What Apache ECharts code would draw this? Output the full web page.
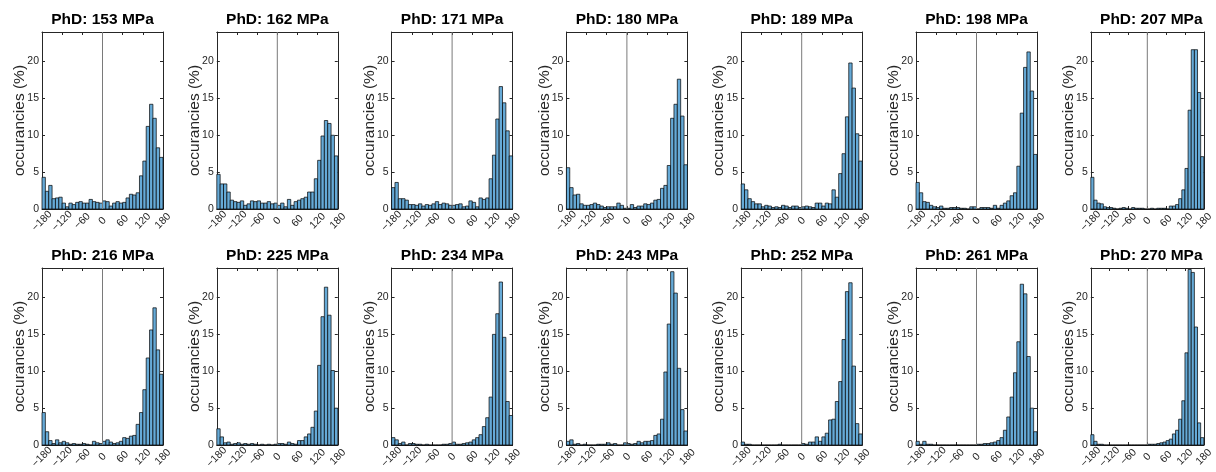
<!DOCTYPE html>
<html><head><meta charset="utf-8">
<script src="https://cdn.jsdelivr.net/npm/echarts@6/dist/echarts.min.js"></script>
<style>html,body{margin:0;padding:0;background:#fff}#c{width:1216px;height:472px}</style>
</head><body><div id="c"></div>
<script>
// ---- data ----
const titles = ['PhD: 153 MPa','PhD: 162 MPa','PhD: 171 MPa','PhD: 180 MPa','PhD: 189 MPa','PhD: 198 MPa','PhD: 207 MPa',
                'PhD: 216 MPa','PhD: 225 MPa','PhD: 234 MPa','PhD: 243 MPa','PhD: 252 MPa','PhD: 261 MPa','PhD: 270 MPa'];
const binEdges = [-180,-170,-160,-150,-140,-130,-120,-110,-100,-90,-80,-70,-60,-50,-40,-30,-20,-10,
                  0,10,20,30,40,50,60,70,80,90,100,110,120,130,140,150,160,170,180];
const xTickLabels = [-180,-120,-60,0,60,120,180];
const yTickLabels = [0,5,10,15,20];
const p153 = [4.3,2.4,3.2,1.4,1.5,1.6,0.8,0.3,0.8,0.6,0.9,1.0,0.8,0.8,1.3,1.0,0.9,0.8, 1.1,1.0,0.4,0.8,1.0,0.8,0.9,1.5,2.0,1.9,2.2,4.5,6.5,11.2,14.2,12.3,8.3,7.0];
const p162 = [4.7,3.4,3.4,2.3,1.2,1.0,0.9,1.1,0.5,0.7,1.1,1.0,1.1,0.8,0.8,1.0,0.7,0.8, 0.5,0.8,0.3,1.3,0.5,1.0,1.2,1.4,1.6,2.3,2.3,4.1,6.6,9.9,12.0,11.6,10.0,7.2];
const p171 = [2.9,3.6,1.4,1.4,1.2,0.6,0.6,0.5,0.7,0.4,0.6,0.5,0.7,1.0,0.6,0.8,0.7,0.5, 0.5,0.6,0.7,0.3,0.4,1.1,0.9,0.3,1.5,1.3,1.5,4.1,7.3,12.2,16.6,14.4,10.6,7.2];
const p180 = [5.6,2.9,1.9,2.0,0.7,0.5,0.5,0.6,0.8,0.6,0.4,0.2,0.3,0.3,0.3,0.8,0.5,0.1, 0.1,0.6,0.2,0.4,0.4,0.7,0.6,0.8,1.2,1.3,2.8,3.2,5.9,12.3,14.2,17.6,12.6,6.0];
const p189 = [3.4,2.6,1.4,1.0,0.7,0.7,0.3,0.5,0.4,0.2,0.3,0.2,0.5,0.4,0.2,0.4,0.4,0.2, 0.3,0.4,0.3,0.2,0.8,0.8,0.4,0.8,0.7,2.6,1.6,4.8,7.5,12.5,19.8,16.4,10.2,6.5];
const p198 = [3.6,2.2,1.0,0.9,0.5,0.3,0.2,0.4,0.1,0.1,0.2,0.2,0.2,0.1,0.1,0.0,0.3,0.3, 0.0,0.2,0.2,0.2,0.1,0.5,0.1,0.5,0.8,1.1,1.8,2.2,5.8,13.0,19.2,21.3,16.0,7.4];
const p207 = [4.3,1.2,0.8,0.7,0.3,0.2,0.2,0.1,0.0,0.1,0.2,0.1,0.0,0.2,0.1,0.1,0.1,0.0, 0.0,0.1,0.0,0.1,0.1,0.1,0.0,0.4,0.4,0.6,1.4,2.6,5.5,13.4,21.6,21.6,15.8,7.1];
const p216 = [4.4,1.8,0.6,0.2,0.7,0.3,0.5,0.3,0.1,0.2,0.1,0.1,0.2,0.1,0.0,0.5,0.3,0.2, 0.5,0.7,0.4,0.2,0.3,0.5,1.0,0.9,1.2,1.3,2.8,4.4,7.5,11.8,15.6,18.6,12.9,9.6];
const p225 = [2.2,1.1,0.3,0.4,0.1,0.2,0.3,0.1,0.2,0.1,0.2,0.1,0.0,0.1,0.0,0.1,0.0,0.1, 0.2,0.2,0.1,0.4,0.2,0.1,0.6,0.6,1.1,1.5,2.4,4.6,10.8,17.4,21.4,17.6,10.1,5.0];
const p234 = [1.0,0.7,0.2,0.4,0.0,0.2,0.2,0.1,0.1,0.0,0.1,0.0,0.0,0.0,0.0,0.1,0.1,0.2, 0.4,0.1,0.1,0.2,0.3,0.4,0.7,1.0,1.4,2.5,3.7,6.5,15.0,17.8,22.1,14.6,5.9,4.0];
const p243 = [0.5,0.7,0.1,0.2,0.0,0.1,0.0,0.0,0.0,0.1,0.1,0.1,0.3,0.1,0.2,0.0,0.0,0.3, 0.2,0.1,0.2,0.5,0.3,0.5,0.5,0.6,1.3,1.5,3.5,9.9,16.4,23.5,20.6,10.4,4.8,1.9];
const p252 = [0.4,0.1,0.1,0.0,0.0,0.0,0.0,0.0,0.0,0.0,0.0,0.1,0.0,0.0,0.0,0.0,0.0,0.0, 0.2,0.1,0.4,0.4,1.1,0.5,1.1,1.6,3.4,3.5,5.9,8.6,14.3,20.8,22.0,10.7,2.9,1.5];
const p261 = [0.5,0.1,0.5,0.1,0.1,0.0,0.0,0.0,0.0,0.0,0.0,0.0,0.0,0.0,0.0,0.0,0.0,0.0, 0.1,0.1,0.2,0.2,0.3,0.4,0.6,1.0,2.0,3.8,6.5,9.8,14.0,21.8,20.5,12.0,5.0,1.8];
const p270 = [1.4,0.5,0.1,0.1,0.0,0.0,0.0,0.0,0.0,0.0,0.0,0.0,0.0,0.0,0.0,0.0,0.0,0.0, 0.1,0.1,0.1,0.2,0.3,0.4,0.6,0.8,1.5,2.0,3.5,6.0,12.5,23.8,23.4,16.0,3.0,1.0];
const panels = [p153,p162,p171,p180,p189,p198,p207,p216,p225,p234,p243,p252,p261,p270];

// ---- layout/style ----
const FONT = '"Liberation Sans", Arial, Helvetica, sans-serif';
const AX = '#262626';
const X0 = 42, DX = 174.8, W = 121, H = 177, TOPS = [32, 268];
const fmtX = v => (v < 0 ? '\u2212' + (-v) : String(v));

const grid = [], xAxis = [], yAxis = [], series = [], graphic = [];
panels.forEach((vals, i) => {
  const col = i % 7, row = Math.floor(i / 7);
  const left = X0 + col * DX, top = TOPS[row];
  grid.push({left: left, top: top, width: W, height: H, containLabel: false});
  graphic.push({type: 'text', x: left + W / 2, y: top - 12, silent: true,
    style: {text: titles[i], textAlign: 'center', textVerticalAlign: 'middle',
      font: 'bold 15.5px ' + FONT, fill: '#000'}});
  const xCommon = {type: 'value', gridIndex: i, min: binEdges[0], max: binEdges[binEdges.length - 1], interval: 60,
    axisLine: {show: true, onZero: false, lineStyle: {color: AX, width: 1}},
    axisTick: {show: true, inside: true, length: 3, lineStyle: {color: AX}},
    splitLine: {show: false}};
  xAxis.push(Object.assign({}, xCommon, {position: 'bottom',
    axisLabel: {show: true, rotate: 45, align: 'center', verticalAlign: 'middle', margin: 12,
      fontFamily: FONT, fontSize: 10.5, color: AX,
      formatter: v => (xTickLabels.indexOf(v) >= 0 ? fmtX(v) : '')}}));
  xAxis.push(Object.assign({}, xCommon, {position: 'top', axisLabel: {show: false}}));
  const yCommon = {type: 'value', gridIndex: i, min: 0, max: 24, interval: 5,
    axisLine: {show: true, onZero: false, lineStyle: {color: AX, width: 1}},
    axisTick: {show: true, inside: true, length: 3, lineStyle: {color: AX}},
    splitLine: {show: false}};
  yAxis.push(Object.assign({}, yCommon, {position: 'left',
    name: 'occurancies (%)', nameLocation: 'middle', nameGap: 14, nameMoveOverlap: false,
    nameTextStyle: {fontFamily: FONT, fontSize: 15.5, color: AX},
    axisLabel: {show: true, margin: 3, fontFamily: FONT, fontSize: 10.5, color: AX,
      formatter: v => (yTickLabels.indexOf(v) >= 0 ? String(v) : '')}}));
  yAxis.push(Object.assign({}, yCommon, {position: 'right', axisLabel: {show: false}}));

  const data = vals.map((v, k) => [binEdges[k], binEdges[k + 1], v]);
  series.push({type: 'custom', xAxisIndex: 2 * i, yAxisIndex: 2 * i, data: data,
    encode: {x: [0, 1], y: 2}, silent: true, z: 2,
    renderItem: (params, api) => {
      const a = api.coord([api.value(0), api.value(2)]);
      const b = api.coord([api.value(1), 0]);
      return {type: 'rect', shape: {x: a[0], y: a[1], width: b[0] - a[0], height: b[1] - a[1]},
        style: {fill: '#66AAD7', stroke: '#000', lineWidth: 0.7}};
    }});
  series.push({type: 'line', xAxisIndex: 2 * i, yAxisIndex: 2 * i, data: [[0, 0], [0, 24]],
    showSymbol: false, symbol: 'none', silent: true, z: 3,
    lineStyle: {color: '#7a7a7a', width: 1}});
});

const chart = echarts.init(document.getElementById('c'), null, {renderer: 'canvas'});
chart.setOption({animation: false, backgroundColor: '#fff', graphic, grid, xAxis, yAxis, series});
</script></body></html>
